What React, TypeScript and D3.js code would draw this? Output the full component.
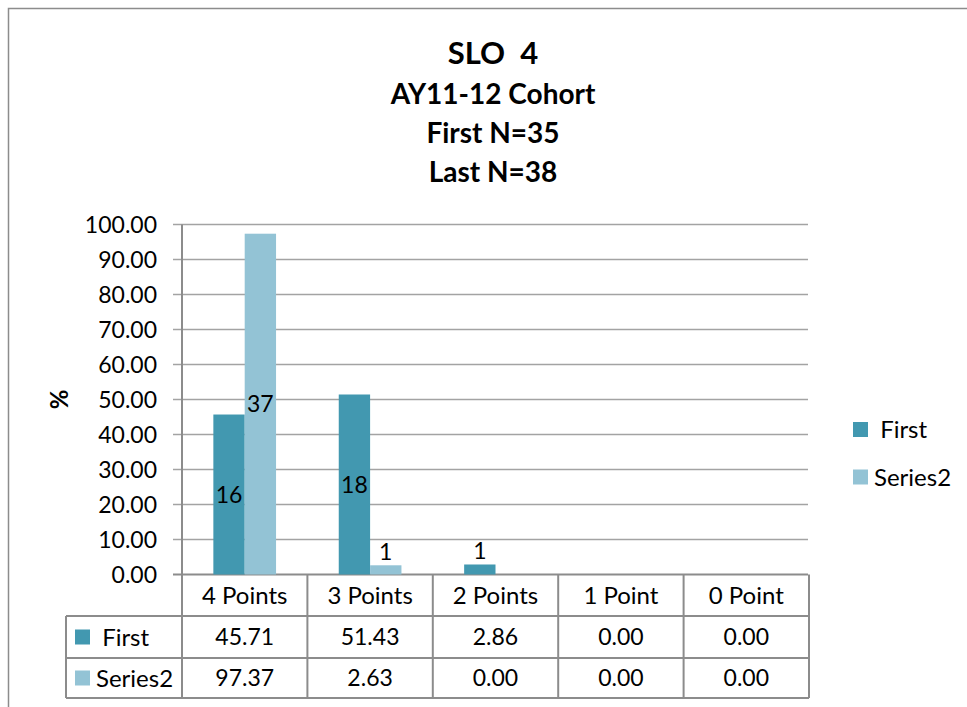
import * as d3 from "d3"

const CATEGORIES = ["4 Points", "3 Points", "2 Points", "1 Point", "0 Point"]
const SERIES = [" First", "Series2"]
const FIRST_PCT = [45.71, 51.43, 2.86, 0, 0]
const SERIES2_PCT = [97.37, 2.63, 0, 0, 0]
const FIRST_COUNT = [16, 18, 1, 0, 0]
const SERIES2_COUNT = [37, 1, 0, 0, 0]
const Y_TICKS = [0, 10, 20, 30, 40, 50, 60, 70, 80, 90, 100]
const TITLE_LINES = ["SLO  4", "AY11-12 Cohort", "First N=35", "Last N=38"]

const COLORS = ["#4298b0", "#93c3d5"]
const GRID = "#a3a3a3"
const LINE = "#8c8c8c"
const FONT = "Lato, 'Open Sans', sans-serif"

export default function App() {
  const W = 967
  const H = 707
  const left = 182
  const right = 809
  const top = 224.5
  const bottom = 574.5

  const x0 = d3.scaleBand<string>().domain(CATEGORIES).range([left, right]).padding(0)
  const bw = x0.bandwidth()
  const x1 = d3.scaleBand<string>().domain(SERIES).range([bw * 0.25, bw * 0.75])
  const y = d3.scaleLinear().domain([0, 100]).range([bottom, top])

  const values = [FIRST_PCT, SERIES2_PCT]
  const counts = [FIRST_COUNT, SERIES2_COUNT]

  const rowTops = [bottom, 616, 658, 698]

  return (
    <svg
      width={W}
      height={H}
      style={{ position: "absolute", left: 0, top: 0, fontFamily: FONT }}
    >
      <rect x={0} y={0} width={W} height={H} fill="#fff" />
      <rect x={8.5} y={8.5} width={1200} height={1200} fill="none" stroke={LINE} strokeWidth={1.5} />

      {TITLE_LINES.map((t, i) => (
        <text
          key={t}
          x={493}
          y={[64, 104, 143, 182][i]}
          textAnchor="middle"
          fontWeight="bold"
          fontSize={i === 0 ? 31 : 28}
          style={{ whiteSpace: "pre" }}
          fill="#000"
        >
          {t}
        </text>
      ))}

      {/* grid + y ticks */}
      {Y_TICKS.map((t) => (
        <g key={t}>
          <line x1={173} x2={right - 1} y1={y(t)} y2={y(t)} stroke={t === 0 ? LINE : GRID} strokeWidth={t === 0 ? 2 : 1.5} />
          <text x={157} y={y(t)} dy="0.36em" textAnchor="end" fontSize={23} fill="#000">
            {t.toFixed(2)}
          </text>
        </g>
      ))}
      <line x1={left} x2={left} y1={top} y2={bottom} stroke={LINE} strokeWidth={2} />

      <text
        transform={`translate(59,${(top + bottom) / 2}) rotate(-90)`}
        textAnchor="middle"
        dy="0.36em"
        fontWeight="bold"
        fontSize={24}
      >
        %
      </text>

      {/* bars */}
      {CATEGORIES.map((c, ci) => (
        <g key={c} transform={`translate(${x0(c)},0)`}>
          {SERIES.map((s, si) => {
            const v = values[si][ci]
            if (v <= 0) return null
            const bx = x1(s)!
            const by = y(v)
            const bh = bottom - by
            const n = counts[si][ci]
            const inside = bh > 26
            return (
              <g key={s}>
                <rect x={bx} y={by} width={x1.bandwidth()} height={bh} fill={COLORS[si]} />
                {n > 0 && (
                  <text
                    x={bx + x1.bandwidth() / 2}
                    y={inside ? by + bh / 2 : by - 14}
                    dy="0.36em"
                    textAnchor="middle"
                    fontSize={23}
                  >
                    {n}
                  </text>
                )}
              </g>
            )
          })}
        </g>
      ))}

      {/* legend */}
      {SERIES.map((s, si) => (
        <g key={s} transform={`translate(853,${[429.5, 477][si]})`}>
          <rect x={0} y={-7.5} width={15} height={15} fill={COLORS[si]} />
          <text x={21} y={0} dy="0.36em" fontSize={24} style={{ whiteSpace: "pre" }}>
            {s}
          </text>
        </g>
      ))}

      {/* data table */}
      {[left, ...CATEGORIES.map((c) => x0(c)! + bw)].map((xx, i) => (
        <line key={i} x1={xx} x2={xx} y1={bottom} y2={698} stroke={LINE} strokeWidth={2} />
      ))}
      <line x1={66} x2={66} y1={616} y2={698} stroke={LINE} strokeWidth={2} />
      {rowTops.slice(1).map((ry) => (
        <line key={ry} x1={66} x2={right} y1={ry} y2={ry} stroke={LINE} strokeWidth={2} />
      ))}
      {CATEGORIES.map((c) => (
        <text key={c} x={x0(c)! + bw / 2} y={(rowTops[0] + rowTops[1]) / 2} dy="0.36em" textAnchor="middle" fontSize={24}>
          {c}
        </text>
      ))}
      {SERIES.map((s, si) => {
        const cy = (rowTops[si + 1] + rowTops[si + 2]) / 2
        return (
          <g key={s}>
            <rect x={75} y={cy - 7.5} width={15} height={15} fill={COLORS[si]} />
            <text x={96} y={cy} dy="0.36em" fontSize={24} style={{ whiteSpace: "pre" }}>
              {s}
            </text>
            {CATEGORIES.map((c, ci) => (
              <text key={c} x={x0(c)! + bw / 2} y={cy} dy="0.36em" textAnchor="middle" fontSize={23}>
                {values[si][ci].toFixed(2)}
              </text>
            ))}
          </g>
        )
      })}
    </svg>
  )
}
